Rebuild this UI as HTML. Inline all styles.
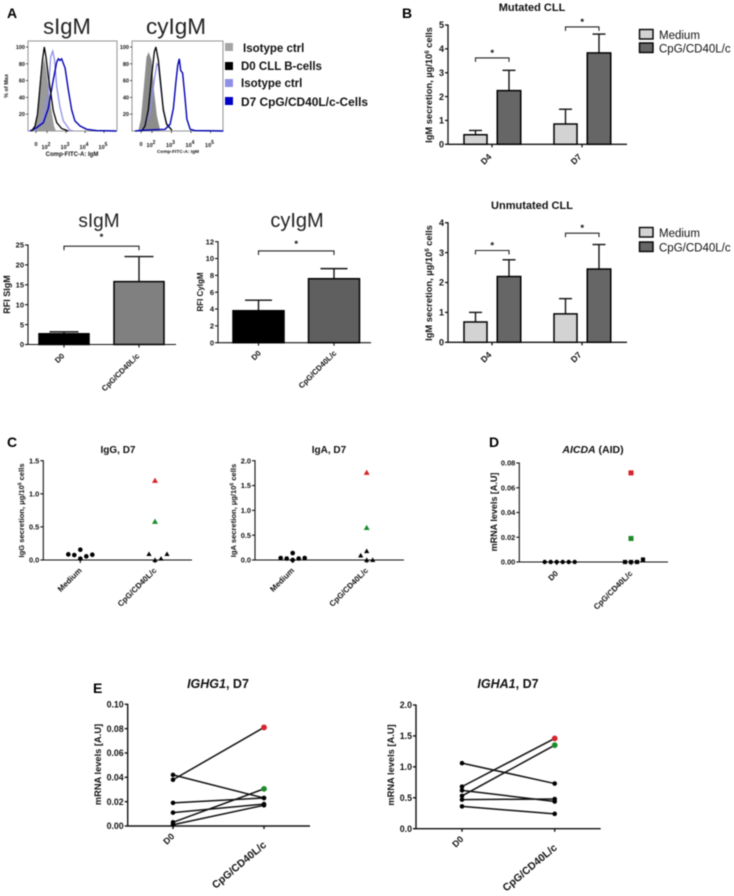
<!DOCTYPE html>
<html lang="en">
<head>
<meta charset="utf-8">
<title>IgM, IgG and IgA secretion figure</title>
<style>
html,body{margin:0;padding:0;background:#fff;width:734px;height:896px;overflow:hidden}
svg{display:block;filter:blur(.45px)}
text{font-family:"Liberation Sans",sans-serif;fill:#111}
.b{font-weight:bold}
.letter{font-size:14px;font-weight:bold;fill:#000}
.big{fill:#222}
</style>
</head>
<body>
<svg id="fig" xmlns="http://www.w3.org/2000/svg" width="734" height="896" viewBox="0 0 734 896">
  <rect x="0" y="0" width="734" height="896" fill="#fff"/>
  <text class="letter" x="7" y="18">A</text>
  <text class="letter" x="402" y="18">B</text>
  <text class="letter" x="7" y="447">C</text>
  <text class="letter" x="489" y="447">D</text>
  <text class="letter" x="93" y="693">E</text>

  <text class="big" x="67" y="34" font-size="22" text-anchor="middle">sIgM</text>
  <text class="big" x="176" y="34" font-size="22.5" text-anchor="middle">cyIgM</text>
  <text class="b" transform="translate(8,86) rotate(-90)" font-size="5.5" text-anchor="middle">% of Max</text>
  <text class="b" x="72" y="156" font-size="6" text-anchor="middle">Comp-FITC-A: IgM</text>
  <text class="b" x="178" y="153" font-size="4.8" text-anchor="middle">Comp-FITC-A: IgM</text>

  <g>
    <rect x="225" y="43" width="8" height="8" fill="#a5a5a5"/>
    <text class="b" x="243" y="52" font-size="11.5">Isotype ctrl</text>
    <rect x="225" y="62" width="8" height="8" fill="#000"/>
    <text class="b" x="241" y="70" font-size="11.5">D0 CLL B-cells</text>
    <rect x="225" y="79" width="8" height="8" fill="#8f8fe8"/>
    <text class="b" x="241" y="87" font-size="11.5">Isotype ctrl</text>
    <rect x="225" y="97" width="8" height="8" fill="#0000c8"/>
    <text class="b" x="241" y="106" font-size="11.5" textLength="127" lengthAdjust="spacingAndGlyphs">D7 CpG/CD40L/c-Cells</text>
  </g>

  <text class="big" x="99" y="227" font-size="19" text-anchor="middle">sIgM</text>
  <text class="big" x="297" y="227" font-size="20" text-anchor="middle">cyIgM</text>
  <text class="b" transform="translate(10,294.5) rotate(-90)" font-size="9" text-anchor="middle">RFI SIgM</text>
  <text class="b" transform="translate(203,292) rotate(-90)" font-size="8" text-anchor="middle">RFI CyIgM</text>

  <text class="b" x="532" y="11" font-size="11" text-anchor="middle">Mutated CLL</text>
  <text class="b" transform="translate(432,85) rotate(-90)" font-size="9.3" text-anchor="middle">IgM secretion, µg/10<tspan dy="-3" font-size="6">6</tspan><tspan dy="3"> cells</tspan></text>
  <text class="b" x="532" y="209" font-size="11" text-anchor="middle">Unmutated CLL</text>
  <text class="b" transform="translate(432,283) rotate(-90)" font-size="9.3" text-anchor="middle">IgM secretion, µg/10<tspan dy="-3" font-size="6">6</tspan><tspan dy="3"> cells</tspan></text>

  <g>
    <rect x="639.5" y="29.5" width="13.5" height="9.5" fill="#d3d3d3" stroke="#000" stroke-width="1.4"/>
    <text x="659" y="39" font-size="11.5" fill="#333">Medium</text>
    <rect x="639.5" y="43" width="13.5" height="9.5" fill="#666" stroke="#000" stroke-width="1.4"/>
    <text x="659" y="52.5" font-size="11.5" fill="#333">CpG/CD40L/c</text>
  </g>
  <g>
    <rect x="639.5" y="227.5" width="13.5" height="9.5" fill="#d3d3d3" stroke="#000" stroke-width="1.4"/>
    <text x="659" y="237" font-size="11.5" fill="#333">Medium</text>
    <rect x="639.5" y="242" width="13.5" height="9.5" fill="#666" stroke="#000" stroke-width="1.4"/>
    <text x="659" y="251.5" font-size="11.5" fill="#333">CpG/CD40L/c</text>
  </g>

  <text class="b" x="118" y="453" font-size="10" text-anchor="middle">IgG, D7</text>
  <text class="b" transform="translate(24,510.5) rotate(-90)" font-size="7.6" text-anchor="middle">IgG secretion, µg/10<tspan dy="-2.5" font-size="5">6</tspan><tspan dy="2.5"> cells</tspan></text>
  <text class="b" x="329" y="453" font-size="10" text-anchor="middle">IgA, D7</text>
  <text class="b" transform="translate(236,510.5) rotate(-90)" font-size="7.6" text-anchor="middle">IgA secretion, µg/10<tspan dy="-2.5" font-size="5">6</tspan><tspan dy="2.5"> cells</tspan></text>
  <text class="b" x="593" y="453" font-size="10.5" text-anchor="middle"><tspan font-style="italic">AICDA</tspan> (AID)</text>
  <text class="b" transform="translate(497,512) rotate(-90)" font-size="9" text-anchor="middle">mRNA levels [A.U]</text>

  <text class="b" x="218" y="688" font-size="12.5" text-anchor="middle"><tspan font-style="italic">IGHG1</tspan>, D7</text>
  <text class="b" transform="translate(101,764.5) rotate(-90)" font-size="9.3" text-anchor="middle">mRNA levels [A.U]</text>
  <text class="b" x="508" y="688" font-size="12.5" text-anchor="middle"><tspan font-style="italic">IGHA1</tspan>, D7</text>
  <text class="b" transform="translate(394,765) rotate(-90)" font-size="9.3" text-anchor="middle">mRNA levels [A.U]</text>
</svg>

<script>
/* ---------- Panel A: flow histograms (log10 channel, % of max) ---------- */
const flowYTicks = [20, 40, 60, 80, 100];
const flowXTicks = [2, 3, 4, 5];

const sIgMGrayChannel = [1.28,1.46,1.63,1.77,1.86,1.98,2.12,2.25,2.37,2.47];
const sIgMGrayPercent = [0,14,45,76,88,69,45,22,6,0];
const sIgMBlackChannel = [1.2,1.37,1.5,1.63,1.76,1.86,1.95,2.07,2.2,2.33,2.51,2.77,3.12];
const sIgMBlackPercent = [0,6,20,53,84,100,88,65,45,24,10,3,0];
const sIgMLightChannel = [1.28,1.55,1.81,2.07,2.19,2.3,2.4,2.51,2.68,2.86,3.21,3.39];
const sIgMLightPercent = [0,6,14,45,88,95,84,53,29,12,1,0];
const sIgMBlueChannel = [1.1,1.46,1.81,2.07,2.33,2.51,2.6,2.68,2.77,2.95,3.12,3.3,3.47,3.74,4.09,4.6,5.65];
const sIgMBluePercent = [0,4,10,27,61,82,86,84,86,75,49,25,12,6,2,0.5,0];

const cyIgMGrayChannel = [1.3,1.43,1.6,1.72,1.83,1.98,2.12,2.25,2.42];
const cyIgMGrayPercent = [0,14,57,88,94,84,45,18,1];
const cyIgMBlackChannel = [1.47,1.64,1.81,1.98,2.12,2.2,2.33,2.46,2.58,2.75,3.02];
const cyIgMBlackPercent = [0,6,25,65,94,100,84,53,25,8,1];
const cyIgMLightChannel = [1.38,1.64,1.9,2.12,2.25,2.33,2.46,2.58,2.75,3.02];
const cyIgMLightPercent = [0,6,22,61,80,78,49,27,9,1];
const cyIgMBlueChannel = [1.13,1.64,2.67,2.93,3.1,3.22,3.32,3.4,3.47,3.57,3.67,3.79,3.96,4.2,5.65];
const cyIgMBluePercent = [0,1,2,8,27,57,78,86,72,69,45,14,2,0.5,0];

/* ---------- Panel A: RFI bars ---------- */
const rfiCategories = ['D0', 'CpG/CD40L/c'];
const rfiSIgMValues = [2.7, 15.8];
const rfiSIgMErrors = [3.2, 22.1];
const rfiSIgMTicks = [0, 5, 10, 15, 20, 25];
const rfiSIgMBracket = 24.7;
const rfiCyIgMValues = [3.8, 7.6];
const rfiCyIgMErrors = [5.05, 8.8];
const rfiCyIgMTicks = [0, 2, 4, 6, 8, 10, 12];
const rfiCyIgMBracket = 10.9;

/* ---------- Panel B: IgM secretion ---------- */
const dayCategories = ['D4', 'D7'];
const mutatedMedium = [0.4, 0.85];
const mutatedMediumErr = [0.58, 1.47];
const mutatedCpg = [2.25, 3.83];
const mutatedCpgErr = [3.1, 4.62];
const mutatedTicks = [0, 1, 2, 3, 4, 5];
const mutatedBrackets = [3.62, 4.92];
const unmutatedMedium = [0.68, 0.95];
const unmutatedMediumErr = [1.0, 1.46];
const unmutatedCpg = [2.2, 2.45];
const unmutatedCpgErr = [2.76, 3.27];
const unmutatedTicks = [0, 1, 2, 3, 4];
const unmutatedBrackets = [3.07, 3.65];

/* ---------- Panel C ---------- */
const secretionCategories = ['Medium', 'CpG/CD40L/c'];
const iggTicks = ['0.0', '0.5', '1.0', '1.5'];
const iggMedium = [0.085, 0.075, 0.155, 0.02, 0.055, 0.08];
const iggMediumSwarm = [-2, -1, 0, 0, 1, 2];
const iggCpg = [0.09, 0.0, 0.02, 0.09];
const iggCpgSwarm = [-1, 0, 1, 2];
const iggCpgRed = [1.2];
const iggCpgGreen = [0.58];
const igaTicks = ['0.0', '0.5', '1.0', '1.5', '2.0'];
const igaMedium = [0.04, 0.03, 0.14, 0.0, 0.03, 0.04];
const igaMediumSwarm = [-2, -1, 0, 0, 1, 2];
const igaCpg = [0.09, 0.18, 0.0, 0.0];
const igaCpgSwarm = [-1, 0, 0, 1];
const igaCpgRed = [1.76];
const igaCpgGreen = [0.65];

/* ---------- Panel D ---------- */
const aicdaCategories = ['D0', 'CpG/CD40L/c'];
const aicdaTicks = ['0.00', '0.02', '0.04', '0.06', '0.08'];
const aicdaD0 = [0, 0, 0, 0, 0, 0];
const aicdaD0Swarm = [-2, -1, 0, 1, 2, 3];
const aicdaCpg = [0, 0, 0, 0.002];
const aicdaCpgSwarm = [-1, 0, 1, 2];
const aicdaCpgRed = [0.072];
const aicdaCpgGreen = [0.019];

/* ---------- Panel E ---------- */
const pairedCategories = ['D0', 'CpG/CD40L/c'];
const ighg1Ticks = ['0.00', '0.02', '0.04', '0.06', '0.08', '0.10'];
const ighg1D0 = [0.038, 0.042, 0.019, 0.011, 0.003, 0.001];
const ighg1Cpg = [0.081, 0.023, 0.023, 0.018, 0.0305, 0.017];
const ighg1RedDonor = 0;
const ighg1GreenDonor = 4;
const igha1Ticks = ['0.0', '0.5', '1.0', '1.5', '2.0'];
const igha1D0 = [0.68, 0.53, 1.06, 0.62, 0.47, 0.36];
const igha1Cpg = [1.46, 1.35, 0.73, 0.44, 0.48, 0.24];
const igha1RedDonor = 0;
const igha1GreenDonor = 1;

/* ---------- Drawing helpers ---------- */
const NS = 'http://www.w3.org/2000/svg';
const fig = document.getElementById('fig');
const RED = '#d8232a';
const GREEN = '#1e8c2a';

function mk(parent, tag, attrs, name) {
  const el = document.createElementNS(NS, tag);
  for (const k in attrs) el.setAttribute(k, attrs[k]);
  
  
  parent.appendChild(el);
  return el;
}
function group(name) {
  return mk(fig, 'g', {}, name);
}
function line(p, x1, y1, x2, y2, w, name, color) {
  return mk(p, 'line', {x1: x1, y1: y1, x2: x2, y2: y2, stroke: color || '#111', 'stroke-width': w}, name);
}
function label(p, x, y, str, size, anchor, name, bold, rot) {
  const a = {x: x, y: y, 'font-size': size, 'text-anchor': anchor};
  if (bold) a['font-weight'] = 'bold';
  if (rot) a.transform = 'rotate(' + rot + ' ' + x + ' ' + y + ')';
  const t = mk(p, 'text', a, name);
  t.textContent = str;
  return t;
}
function linearY(axis) {
  return v => axis.y0 - (v / axis.max) * (axis.y0 - axis.yTop);
}
function drawAxes(p, axis, ticks, fmtSize) {
  const y = linearY(axis);
  line(p, axis.x0, axis.yTop - 0.5, axis.x0, axis.y0 + 0.5, axis.w, 'y-axis');
  line(p, axis.x0, axis.y0, axis.xEnd, axis.y0, axis.w, 'x-axis');
  ticks.forEach(t => {
    const v = +t;
    line(p, axis.x0 - 3, y(v), axis.x0, y(v), axis.w, 'y-tick');
    label(p, axis.x0 - 4, y(v) + fmtSize * 0.36, String(t), fmtSize, 'end', 'y-tick-label', true);
  });
  return y;
}
function catLabel(p, tickX, axis, str, size, bold, dx, dy, rot) {
  line(p, tickX, axis.y0, tickX, axis.y0 + 3, axis.w, 'x-tick');
  label(p, tickX + axis.ldx + (dx || 0), axis.y0 + axis.ldy + (dy || 0), str, size, 'end', 'x-tick-label', bold, rot || -45);
}
function bracket(p, xa, xb, y, star) {
  mk(p, 'path', {d: 'M' + xa + ' ' + (y + 4) + 'V' + y + 'H' + xb + 'V' + (y + 4), fill: 'none', stroke: '#222', 'stroke-width': 1.1}, 'significance-bracket');
  label(p, (xa + xb) / 2, y - 2 + star, '*', 9.5, 'middle', 'significance-star', true);
}
function bar(p, cx, width, axis, y, val, err, fill, cap, name) {
  line(p, cx, y(val), cx, y(err), 1.4, name + '-error-bar');
  line(p, cx - cap / 2, y(err), cx + cap / 2, y(err), 1.4, name + '-error-cap');
  mk(p, 'rect', {x: cx - width / 2, y: y(val), width: width, height: axis.y0 - y(val), fill: fill, stroke: '#000', 'stroke-width': 1.5}, name);
}

/* ---------- Flow histograms ---------- */
function histogram(name, box, channel0, channelScale, series) {
  const p = group(name);
  mk(p, 'rect', {x: box.x, y: box.y, width: box.w, height: box.h, fill: '#fff', stroke: '#8a8a8a', 'stroke-width': 0.9}, 'plot-frame');
  const sx = v => channel0 + (v - 2) * channelScale;
  const base = box.y + box.h;
  const sy = v => base - v * (box.h - 6) / 100;
  const toPts = (xs, ys) => xs.map((v, i) => sx(v).toFixed(1) + ',' + sy(ys[i]).toFixed(1)).join(' ');
  series.forEach(s => {
    const pts = toPts(s.x, s.y);
    if (s.fill) {
      mk(p, 'polygon', {points: pts, fill: s.fill, stroke: 'none'}, s.name);
    } else {
      mk(p, 'polyline', {points: pts, fill: 'none', stroke: s.stroke, 'stroke-width': s.w}, s.name);
    }
  });
  flowYTicks.forEach(t => {
    line(p, box.x - 2, sy(t), box.x, sy(t), 0.7, 'y-tick');
    label(p, box.x - 3, sy(t) + 2, String(t), 5.5, 'end', 'y-tick-label', true);
  });
  line(p, channel0 - 11, base, channel0 - 11, base + 2, 0.7, 'x-tick');
  label(p, channel0 - 11, base + 15, '0', 5.5, 'middle', 'x-tick-label', true);
  flowXTicks.forEach(t => {
    line(p, sx(t), base, sx(t), base + 2, 0.7, 'x-tick');
    const txt = label(p, sx(t) - 1, base + box.lab, '10', 5.5, 'middle', 'x-tick-label', true);
    const sup = mk(txt, 'tspan', {dy: -3, 'font-size': 5}, 'x-tick-exponent');
    sup.textContent = String(t);
  });
}
histogram('flow-histogram-sigm', {x: 28, y: 41, w: 89, h: 90, lab: 18}, 47, 19, [
  {name: 'isotype-d0-area', x: sIgMGrayChannel, y: sIgMGrayPercent, fill: '#9a9a9a'},
  {name: 'isotype-d7-line', x: sIgMLightChannel, y: sIgMLightPercent, stroke: '#8f8fe8', w: 1.3},
  {name: 'd7-line', x: sIgMBlueChannel, y: sIgMBluePercent, stroke: '#0000b4', w: 1.4},
  {name: 'd0-line', x: sIgMBlackChannel, y: sIgMBlackPercent, stroke: '#000', w: 1.3}
]);
histogram('flow-histogram-cyigm', {x: 132, y: 41, w: 91, h: 90, lab: 16}, 152, 19.5, [
  {name: 'isotype-d0-area', x: cyIgMGrayChannel, y: cyIgMGrayPercent, fill: '#8c8c8c'},
  {name: 'isotype-d7-line', x: cyIgMLightChannel, y: cyIgMLightPercent, stroke: '#8f8fe8', w: 1.3},
  {name: 'd0-line', x: cyIgMBlackChannel, y: cyIgMBlackPercent, stroke: '#000', w: 1.3},
  {name: 'd7-line', x: cyIgMBlueChannel, y: cyIgMBluePercent, stroke: '#0000b4', w: 1.4}
]);

/* ---------- RFI bars ---------- */
function rfiChart(name, axis, ticks, vals, errs, brk, fills, c0, step, bw, cap, starShift) {
  const p = group(name);
  const y = drawAxes(p, axis, ticks, 7.5);
  const cx = i => c0 + i * step;
  vals.forEach((v, i) => {
    bar(p, cx(i), bw, axis, y, v, errs[i], fills[i === 0 ? 0 : 1], cap, 'bar-' + rfiCategories[i].slice(0, 3).toLowerCase());
    catLabel(p, cx(i), axis, rfiCategories[i], 7.8, true);
  });
  bracket(p, cx(0), cx(1), y(brk), starShift);
}
rfiChart('chart-rfi-sigm', {x0: 28, xEnd: 176, y0: 344.5, yTop: 245, max: 25, w: 1.1, ldx: 1, ldy: 12}, rfiSIgMTicks, rfiSIgMValues, rfiSIgMErrors, rfiSIgMBracket, ['#000', '#808080'], 64, 75, 50, 29, -4);
rfiChart('chart-rfi-cyigm', {x0: 218, xEnd: 371, y0: 342.7, yTop: 241.7, max: 12, w: 1.1, ldx: 3, ldy: 11}, rfiCyIgMTicks, rfiCyIgMValues, rfiCyIgMErrors, rfiCyIgMBracket, ['#000', '#5f5f5f'], 258.5, 75.5, 51, 27, -2);

/* ---------- Grouped IgM bars ---------- */
function igmChart(name, axis, ticks, med, medE, cpg, cpgE, brk) {
  const p = group(name);
  const y = drawAxes(p, axis, ticks, 9);
  const gx = i => 492 + i * 90;
  dayCategories.forEach((c, i) => {
    bar(p, gx(i) - 16.5, 23, axis, y, med[i], medE[i], '#d3d3d3', 13, 'bar-medium-' + c.toLowerCase());
    bar(p, gx(i) + 17, 23.5, axis, y, cpg[i], cpgE[i], '#666', 13, 'bar-cpg-' + c.toLowerCase());
    catLabel(p, gx(i), axis, c, 8.6, true);
    bracket(p, gx(i) - 16.5, gx(i) + 17, y(brk[i]), 0);
  });
}
igmChart('chart-igm-mutated', {x0: 448, xEnd: 627, y0: 144.3, yTop: 25, max: 5, w: 1.3, ldx: 0, ldy: 13}, mutatedTicks, mutatedMedium, mutatedMediumErr, mutatedCpg, mutatedCpgErr, mutatedBrackets);
igmChart('chart-igm-unmutated', {x0: 448, xEnd: 627, y0: 342.3, yTop: 222.7, max: 4, w: 1.3, ldx: 0, ldy: 13}, unmutatedTicks, unmutatedMedium, unmutatedMediumErr, unmutatedCpg, unmutatedCpgErr, unmutatedBrackets);

/* ---------- Scatter plots ---------- */
function marker(p, shape, cx, cy, color, s, name) {
  if (shape === 'circle') {
    mk(p, 'circle', {cx: cx, cy: cy, r: s * 0.58, fill: color}, name);
  } else if (shape === 'tri') {
    mk(p, 'polygon', {points: (cx) + ',' + (cy - s * 0.65) + ' ' + (cx - s * 0.65) + ',' + (cy + s * 0.5) + ' ' + (cx + s * 0.65) + ',' + (cy + s * 0.5), fill: color}, name);
  } else {
    mk(p, 'rect', {x: cx - s * 0.55, y: cy - s * 0.55, width: s * 1.1, height: s * 1.1, fill: color}, name);
  }
}
function scatter(name, axis, ticks, cats, c0, c1, lv, ls, hv, hs, red, green, highShape, lowHighShape, size, hsize) {
  const p = group(name);
  const y = drawAxes(p, axis, ticks, 7.4);
  catLabel(p, c0, axis, cats[0], 8, true);
  catLabel(p, c1, axis, cats[1], 8, true);
  lv.forEach((v, i) => marker(p, 'circle', c0 + ls[i] * 6, y(v), '#000', size, 'point-low'));
  hv.forEach((v, i) => marker(p, lowHighShape, c1 + hs[i] * 6, y(v), '#000', size, 'point-high'));
  red.forEach(v => marker(p, highShape, c1, y(v), RED, hsize, 'point-high-red-donor'));
  green.forEach(v => marker(p, highShape, c1, y(v), GREEN, hsize, 'point-high-green-donor'));
}
scatter('chart-igg', {x0: 43.3, xEnd: 192, y0: 560, yTop: 460.7, max: 1.5, w: 1.1, ldx: 2, ldy: 11}, iggTicks, secretionCategories, 80.3, 155, iggMedium, iggMediumSwarm, iggCpg, iggCpgSwarm, iggCpgRed, iggCpgGreen, 'tri', 'tri', 4, 4.6);
scatter('chart-iga', {x0: 255, xEnd: 404, y0: 560, yTop: 460.7, max: 2, w: 1.1, ldx: 2, ldy: 11}, igaTicks, secretionCategories, 292.7, 366.7, igaMedium, igaMediumSwarm, igaCpg, igaCpgSwarm, igaCpgRed, igaCpgGreen, 'tri', 'tri', 4, 4.6);
scatter('chart-aicda', {x0: 519.3, xEnd: 668, y0: 562, yTop: 463, max: 0.08, w: 1.1, ldx: 2, ldy: 12}, aicdaTicks, aicdaCategories, 556.7, 631, aicdaD0, aicdaD0Swarm, aicdaCpg, aicdaCpgSwarm, aicdaCpgRed, aicdaCpgGreen, 'square', 'square', 3.8, 4.6);

/* ---------- Paired plots ---------- */
function paired(name, axis, ticks, c0, c1, before, after, redI, greenI) {
  const p = group(name);
  const y = drawAxes(p, axis, ticks, 8.8);
  catLabel(p, c0, axis, pairedCategories[0], 9, true);
  catLabel(p, c1, axis, pairedCategories[1], 10.5, true, 1, 9, -40);
  before.forEach((v, i) => {
    line(p, c0, y(v), c1, y(after[i]), 1.5, 'donor-line', '#111');
    mk(p, 'circle', {cx: c0, cy: y(v), r: 2.3, fill: '#000'}, 'donor-point-d0');
    const highlighted = i === redI ? RED : (i === greenI ? GREEN : '#000');
    const r = i === redI || i === greenI ? 2.9 : 2.3;
    mk(p, 'circle', {cx: c1, cy: y(after[i]), r: r, fill: highlighted}, 'donor-point-cpg');
  });
}
paired('chart-ighg1', {x0: 127.7, xEnd: 310, y0: 826, yTop: 704.3, max: 0.1, w: 1.4, ldx: 2, ldy: 11}, ighg1Ticks, 173, 264, ighg1D0, ighg1Cpg, ighg1RedDonor, ighg1GreenDonor);
paired('chart-igha1', {x0: 416, xEnd: 600.7, y0: 828.7, yTop: 705, max: 2, w: 1.4, ldx: 2, ldy: 11}, igha1Ticks, 462, 554.7, igha1D0, igha1Cpg, igha1RedDonor, igha1GreenDonor);
</script>
</body>
</html>
